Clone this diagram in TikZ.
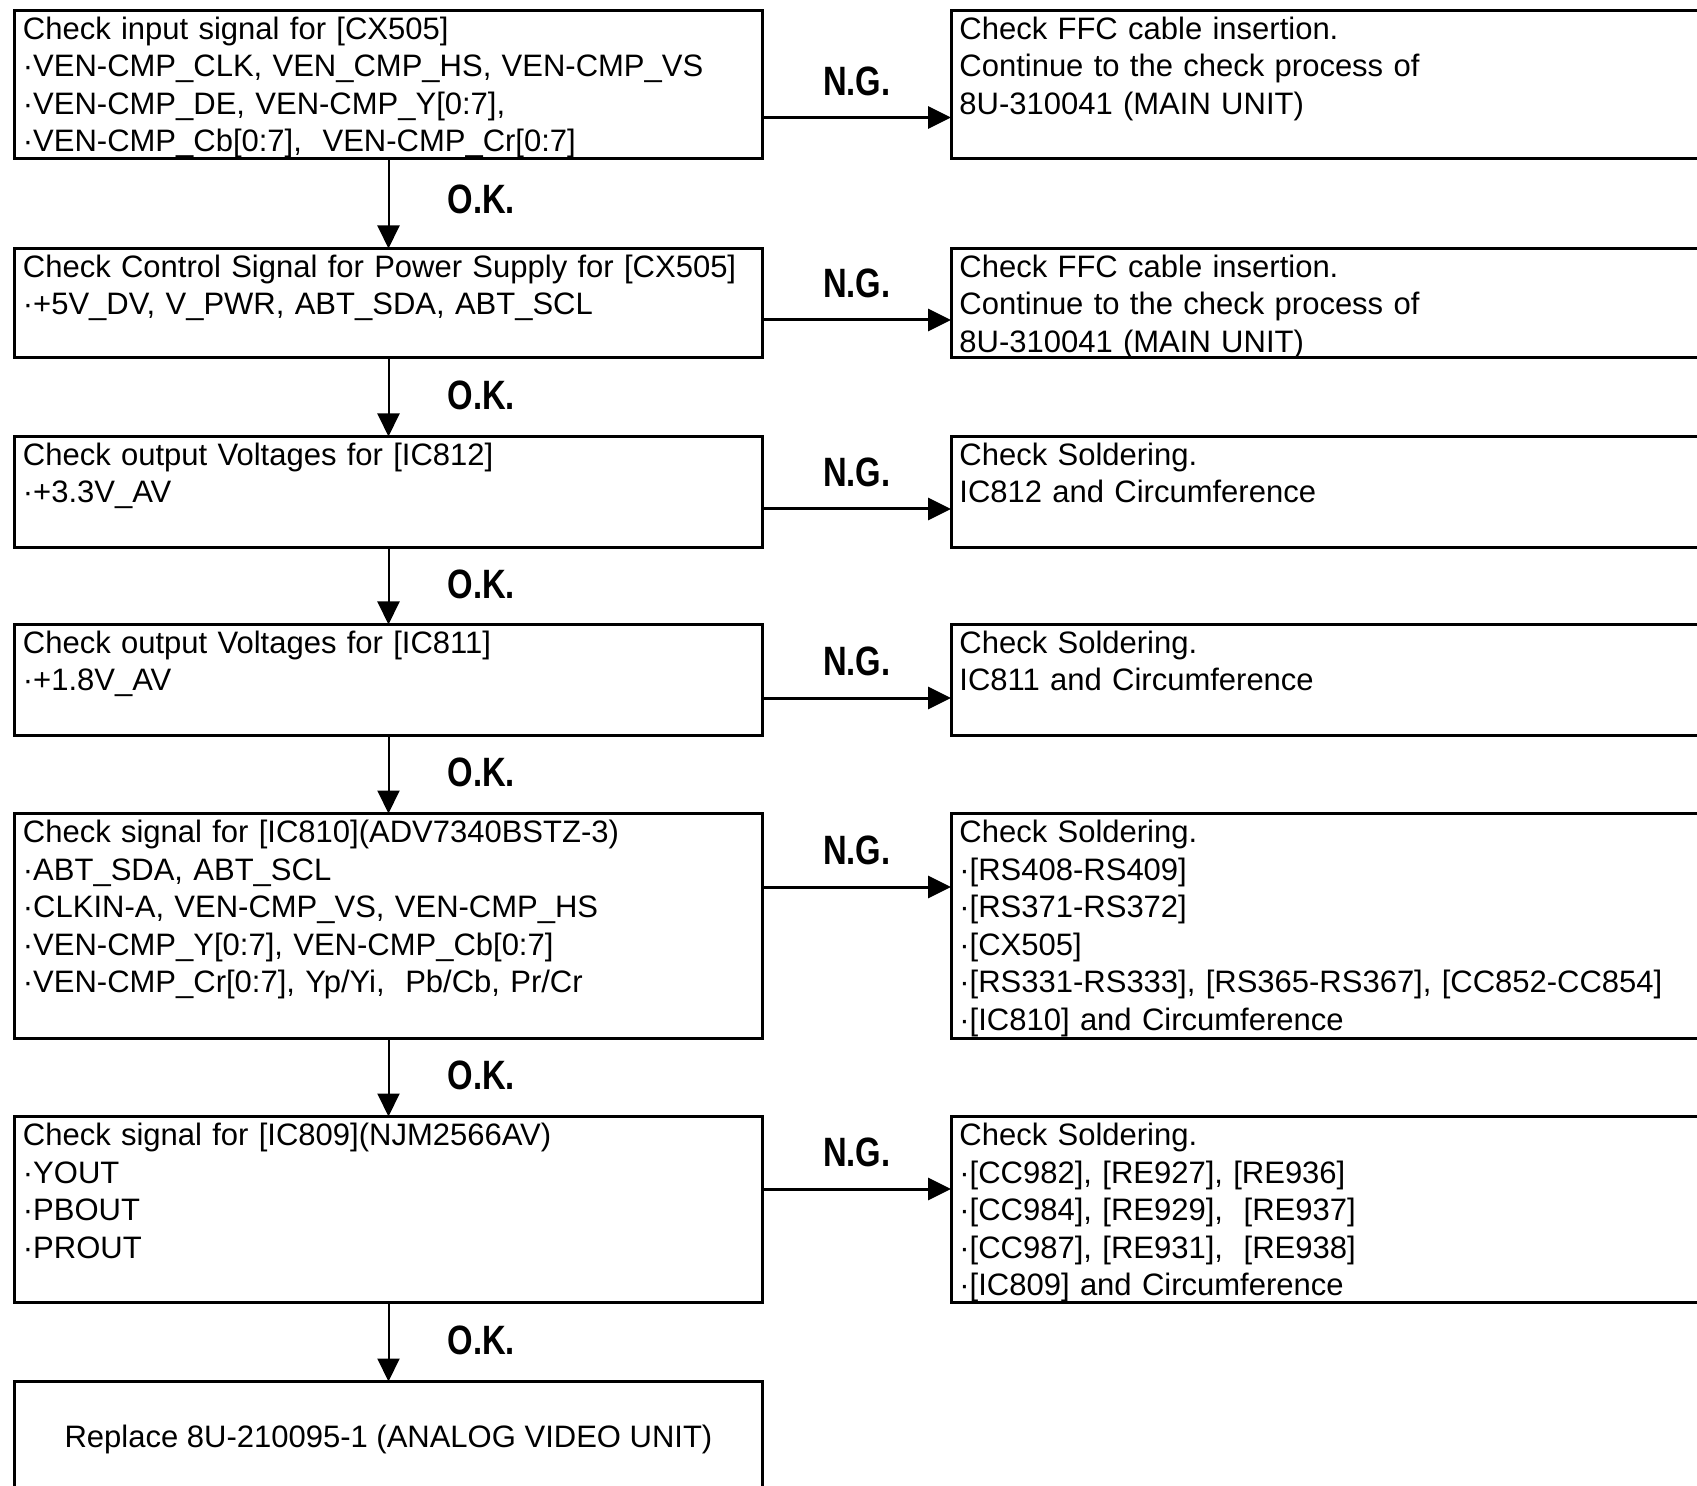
\documentclass[tikz,border=0pt]{standalone}
\usepackage{fontspec}
\setmainfont{Liberation Sans}
\newfontfamily\flagfamily{Liberation Sans}[FakeStretch=0.8]
\usetikzlibrary{positioning, arrows.meta}

\newcommand{\boxfont}{\fontsize{15.5pt}{18.75pt}\selectfont}
\newcommand{\flagfont}{\flagfamily\bfseries\fontsize{20.5pt}{24pt}\selectfont}

\begin{document}
\begin{tikzpicture}[x=1pt, y=1pt, >={Triangle[length=11.5pt, width=11pt]},
    chk/.style={rectangle, draw, line width=1.5pt, anchor=north west,
      minimum width=374pt, inner sep=0pt, outer sep=0pt},
    fix/.style={chk, minimum width=400pt},
    txt/.style={anchor=base west, inner sep=0pt, text width=380pt,
      align=left, font=\boxfont},
    flag/.style={font=\flagfont, inner sep=0pt},
    ngline/.style={->, line width=1.5pt},
    okline/.style={->, line width=1pt}]

  \useasboundingbox (0,0) rectangle (848.5,-743);
  \clip (0,0) rectangle (848.5,-743);

  % left column: checks
  \node[chk, minimum height=74pt]   (b1) at (7.25,-5.25) {};
  \node[chk, minimum height=54.5pt] (b2) at (7.25,-124.25) {};
  \node[chk, minimum height=55.5pt] (b3) at (7.25,-218.25) {};
  \node[chk, minimum height=55.5pt] (b4) at (7.25,-312.25) {};
  \node[chk, minimum height=112.5pt] (b5) at (7.25,-406.75) {};
  \node[chk, minimum height=93pt]   (b6) at (7.25,-558.25) {};
  \node[chk, minimum height=70pt]   (b7) at (7.25,-690.75) {};

  % right column: what to do on N.G.
  \node[fix, minimum height=74pt,   right=94.25pt of b1.north east, anchor=north west] (r1) {};
  \node[fix, minimum height=54.5pt, right=94.25pt of b2.north east, anchor=north west] (r2) {};
  \node[fix, minimum height=55.5pt, right=94.25pt of b3.north east, anchor=north west] (r3) {};
  \node[fix, minimum height=55.5pt, right=94.25pt of b4.north east, anchor=north west] (r4) {};
  \node[fix, minimum height=112.5pt, right=94.25pt of b5.north east, anchor=north west] (r5) {};
  \node[fix, minimum height=93pt,   right=94.25pt of b6.north east, anchor=north west] (r6) {};

  % texts
  \node[txt] (b1t) at ([shift={(4pt,-14.5pt)}]b1.north west)
    {Check input signal for [CX505]\\
     ·VEN-CMP\_CLK, VEN\_CMP\_HS, VEN-CMP\_VS\\
     ·VEN-CMP\_DE, VEN-CMP\_Y[0:7],\\
     ·VEN-CMP\_Cb[0:7], \ VEN-CMP\_Cr[0:7]};
  \node[txt] (b2t) at ([shift={(4pt,-14.5pt)}]b2.north west)
    {Check Control Signal for Power Supply for [CX505]\\
     ·+5V\_DV, V\_PWR, ABT\_SDA, ABT\_SCL};
  \node[txt] (b3t) at ([shift={(4pt,-14.5pt)}]b3.north west)
    {Check output Voltages for [IC812]\\ ·+3.3V\_AV};
  \node[txt] (b4t) at ([shift={(4pt,-14.5pt)}]b4.north west)
    {Check output Voltages for [IC811]\\ ·+1.8V\_AV};
  \node[txt] (b5t) at ([shift={(4pt,-14.5pt)}]b5.north west)
    {Check signal for [IC810](ADV7340BSTZ-3)\\
     ·ABT\_SDA, ABT\_SCL\\
     ·CLKIN-A, VEN-CMP\_VS, VEN-CMP\_HS\\
     ·VEN-CMP\_Y[0:7], VEN-CMP\_Cb[0:7]\\
     ·VEN-CMP\_Cr[0:7], Yp/Yi, \ Pb/Cb, Pr/Cr};
  \node[txt] (b6t) at ([shift={(4pt,-14.5pt)}]b6.north west)
    {Check signal for [IC809](NJM2566AV)\\ ·YOUT\\ ·PBOUT\\ ·PROUT};
  \node[font=\boxfont, anchor=base, inner sep=0pt] (b7t) at ([yshift=-32.75pt]b7.north)
    {Replace 8U-210095-1 (ANALOG VIDEO UNIT)};

  \node[txt] (r1t) at ([shift={(4pt,-14.5pt)}]r1.north west)
    {Check FFC cable insertion.\\ Continue to the check process of\\ 8U-310041 (MAIN UNIT)};
  \node[txt] (r2t) at ([shift={(4pt,-14.5pt)}]r2.north west)
    {Check FFC cable insertion.\\ Continue to the check process of\\ 8U-310041 (MAIN UNIT)};
  \node[txt] (r3t) at ([shift={(4pt,-14.5pt)}]r3.north west)
    {Check Soldering.\\ IC812 and Circumference};
  \node[txt] (r4t) at ([shift={(4pt,-14.5pt)}]r4.north west)
    {Check Soldering.\\ IC811 and Circumference};
  \node[txt] (r5t) at ([shift={(4pt,-14.5pt)}]r5.north west)
    {Check Soldering.\\ ·[RS408-RS409]\\ ·[RS371-RS372]\\ ·[CX505]\\
     ·[RS331-RS333], [RS365-RS367], [CC852-CC854]\\
     ·[IC810] and Circumference};
  \node[txt] (r6t) at ([shift={(4pt,-14.5pt)}]r6.north west)
    {Check Soldering.\\ ·[CC982], [RE927], [RE936]\\
     ·[CC984], [RE929], \ [RE937]\\ ·[CC987], [RE931], \ [RE938]\\
     ·[IC809] and Circumference};

  % O.K. arrows
  \draw[okline] (b1) -- (b2) node[flag, midway, right=29pt, yshift=2pt] (ok1) {O.K.};
  \draw[okline] (b2) -- (b3) node[flag, midway, right=29pt, yshift=1pt] (ok2) {O.K.};
  \draw[okline] (b3) -- (b4) node[flag, midway, right=29pt, yshift=1pt] (ok3) {O.K.};
  \draw[okline] (b4) -- (b5) node[flag, midway, right=29pt, yshift=1pt] (ok4) {O.K.};
  \draw[okline] (b5) -- (b6) node[flag, midway, right=29pt, yshift=1pt] (ok5) {O.K.};
  \draw[okline] (b6) -- (b7) node[flag, midway, right=29pt, yshift=1pt] (ok6) {O.K.};

  % N.G. arrows
  \draw[ngline] ([yshift=-16.5pt]b1.east) -- ([yshift=-16.5pt]r1.west)
    node[flag, midway, yshift=18pt] (ng1) {N.G.};
  \draw[ngline] ([yshift=-8.5pt]b2.east) -- ([yshift=-8.5pt]r2.west)
    node[flag, midway, yshift=18.5pt] (ng2) {N.G.};
  \draw[ngline] ([yshift=-8.5pt]b3.east) -- ([yshift=-8.5pt]r3.west)
    node[flag, midway, yshift=18.5pt] (ng3) {N.G.};
  \draw[ngline] ([yshift=-9pt]b4.east) -- ([yshift=-9pt]r4.west)
    node[flag, midway, yshift=18.5pt] (ng4) {N.G.};
  \draw[ngline] ([yshift=19.5pt]b5.east) -- ([yshift=19.5pt]r5.west)
    node[flag, midway, yshift=18.5pt] (ng5) {N.G.};
  \draw[ngline] ([yshift=10.25pt]b6.east) -- ([yshift=10.25pt]r6.west)
    node[flag, midway, yshift=18.5pt] (ng6) {N.G.};
\end{tikzpicture}
\end{document}
